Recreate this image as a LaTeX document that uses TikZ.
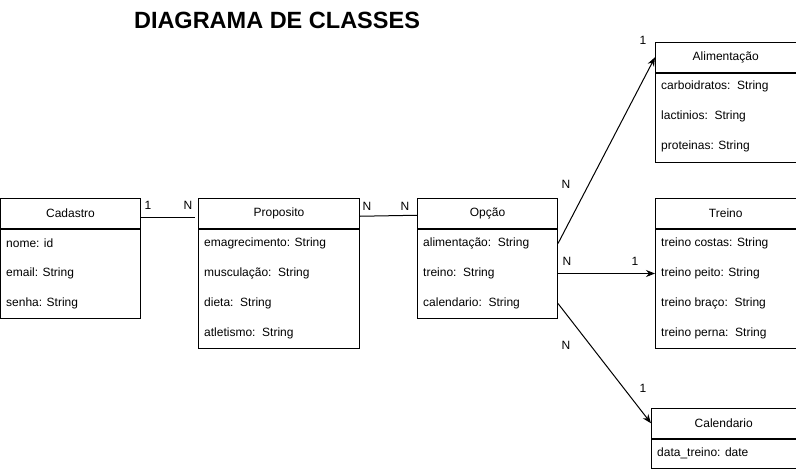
\documentclass[tikz,border=0pt]{standalone}
\usepackage{fontspec}
\setmainfont{Liberation Sans}
\usetikzlibrary{positioning,arrows.meta}
\tikzstyle{classhead} = [rectangle, draw=black, line width=1pt, minimum height=29.5pt, inner sep=0pt, anchor=north west, font=\fontsize{12}{14}\selectfont]
\tikzstyle{classbody} = [rectangle, draw=black, line width=1pt, inner sep=0pt, anchor=north]
\tikzstyle{attr} = [anchor=west, inner sep=0pt, font=\fontsize{12}{14}\selectfont]
\tikzstyle{mult} = [inner sep=0pt, font=\fontsize{12}{14}\selectfont]
\tikzstyle{line} = [draw, line width=1pt]
\tikzstyle{arrow} = [draw, line width=1pt, -{Stealth[length=9pt,width=7pt]}]

\begin{document}
\begin{tikzpicture}[x=1pt, y=-1pt]
        \useasboundingbox (0,0) rectangle (796,469);
        \node (titulo) [font=\bfseries\fontsize{23.5}{26}\selectfont] at (277,20) {DIAGRAMA DE CLASSES};

        % Cadastro
        \node (cadH) [classhead, minimum width=140pt] at (0,198) {Cadastro};
        \node (cadB) [classbody, minimum width=140pt, minimum height=89.5pt] at (cadH.south) {};
        \node (cadNome) [attr] at ([xshift=6pt, yshift=-15pt]cadB.north west) {nome: id};
        \node (cadEmail) [attr] at ([xshift=6pt, yshift=-45pt]cadB.north west) {email: String};
        \node (cadSenha) [attr] at ([xshift=6pt, yshift=-75pt]cadB.north west) {senha: String};

        % Proposito
        \node (propH) [classhead, minimum width=161pt] at (198,198) {Proposito};
        \node (propB) [classbody, minimum width=161pt, minimum height=119.5pt] at (propH.south) {};
        \node (propEmag) [attr] at ([xshift=6pt, yshift=-15pt]propB.north west) {emagrecimento: String};
        \node (propMusc) [attr] at ([xshift=6pt, yshift=-45pt]propB.north west) {musculação:\ \ String};
        \node (propDieta) [attr] at ([xshift=6pt, yshift=-75pt]propB.north west) {dieta:\ \ String};
        \node (propAtl) [attr] at ([xshift=6pt, yshift=-105pt]propB.north west) {atletismo:\ \ String};

        % Opção
        \node (opH) [classhead, minimum width=140pt] at (417,198) {Opção};
        \node (opB) [classbody, minimum width=140pt, minimum height=89.5pt] at (opH.south) {};
        \node (opAlim) [attr] at ([xshift=6pt, yshift=-15pt]opB.north west) {alimentação:\ \ String};
        \node (opTreino) [attr] at ([xshift=6pt, yshift=-45pt]opB.north west) {treino:\ \ String};
        \node (opCal) [attr] at ([xshift=6pt, yshift=-75pt]opB.north west) {calendario:\ \ String};

        % Alimentação
        \node (aliH) [classhead, minimum width=140.5pt] at (655,42) {Alimentação};
        \node (aliB) [classbody, minimum width=140.5pt, minimum height=89pt] at (aliH.south) {};
        \node (aliCarb) [attr] at ([xshift=6pt, yshift=-14pt]aliB.north west) {carboidratos:\ \ String};
        \node (aliLact) [attr] at ([xshift=6pt, yshift=-44pt]aliB.north west) {lactinios:\ \ String};
        \node (aliProt) [attr] at ([xshift=6pt, yshift=-74pt]aliB.north west) {proteinas: String};

        % Treino
        \node (trH) [classhead, minimum width=140.5pt] at (655,198) {Treino};
        \node (trB) [classbody, minimum width=140.5pt, minimum height=119.5pt] at (trH.south) {};
        \node (trCostas) [attr] at ([xshift=6pt, yshift=-15pt]trB.north west) {treino costas: String};
        \node (trPeito) [attr] at ([xshift=6pt, yshift=-45pt]trB.north west) {treino peito: String};
        \node (trBraco) [attr] at ([xshift=6pt, yshift=-75pt]trB.north west) {treino braço:\ \ String};
        \node (trPerna) [attr] at ([xshift=6pt, yshift=-105pt]trB.north west) {treino perna:\ \ String};

        % Calendario
        \node (calH) [classhead, minimum width=144.5pt] at (651,408) {Calendario};
        \node (calB) [classbody, minimum width=144.5pt, minimum height=29.5pt] at (calH.south) {};
        \node (calData) [attr] at ([xshift=6pt, yshift=-15pt]calB.north west) {data\_treino: date};

        % ligações
        \path [line] ([yshift=-4pt]cadH.east) -- ([yshift=-4pt, xshift=-3pt]propH.west);
        \path [line] ([yshift=-3pt]propH.east) -- ([yshift=-2pt]opH.west);
        \path [arrow] (opB.east |- opAlim) -- (aliH.west);
        \path [arrow] (opB.east |- opTreino) -- (trB.west |- trPeito);
        \path [arrow] (opB.east |- opCal) -- (calH.west);

        % multiplicidades
        \node (m1) [mult] at (148,205) {1};
        \node (m2) [mult] at (188,205) {N};
        \node (m3) [mult] at (367,206) {N};
        \node (m4) [mult] at (405,206) {N};
        \node (m5) [mult] at (566,184) {N};
        \node (m6) [mult] at (643,40) {1};
        \node (m7) [mult] at (567,261) {N};
        \node (m8) [mult] at (635,261) {1};
        \node (m9) [mult] at (566,345) {N};
        \node (m10) [mult] at (643,388) {1};
\end{tikzpicture}
\end{document}
